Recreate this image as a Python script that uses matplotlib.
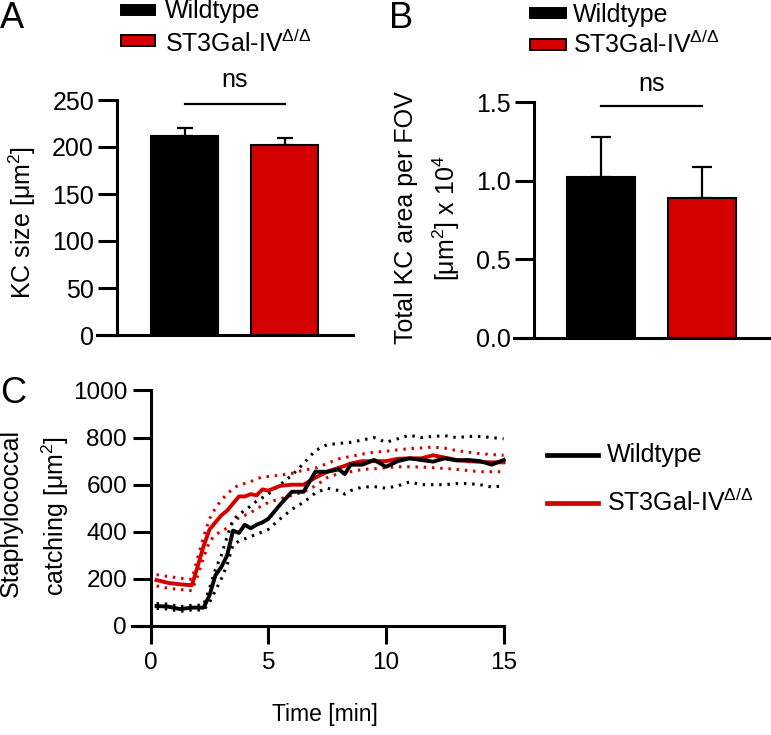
import matplotlib
matplotlib.use("Agg")
import matplotlib.pyplot as plt
from matplotlib.patches import Rectangle
from matplotlib.lines import Line2D

plt.rcParams['font.family'] = ['Liberation Sans', 'DejaVu Sans']
plt.rcParams['mathtext.fontset'] = 'custom'
plt.rcParams['mathtext.rm'] = 'Liberation Sans'
plt.rcParams['mathtext.it'] = 'Liberation Sans:italic'
plt.rcParams['mathtext.bf'] = 'Liberation Sans:bold'

# ---- data ----
groups = ['Wildtype', 'ST3Gal-IV$^{Δ/Δ}$']
colors = ['black', '#d40000']

kc_size = [212, 202.5]
kc_size_err = [8, 7.5]

kc_area = [1.024, 0.89]
kc_area_err = [0.255, 0.195]

time_min = [0.25, 0.75, 1.25, 1.75, 2.0, 2.25, 2.5, 2.75, 3.0, 3.25, 3.5, 3.75,
            4.0, 4.25, 4.5, 4.75, 5.0, 5.5, 6.0, 6.5, 7.0, 7.5, 8.0, 8.25, 8.5,
            9.0, 9.5, 10.0, 10.5, 11.0, 11.5, 12.0, 12.5, 13.0, 13.5, 14.0, 14.5, 15.0]

wt_mean = [85, 82, 72, 78, 78, 78, 130, 215, 250, 300, 405, 395,
           430, 415, 430, 440, 455, 515, 570, 570, 655, 655, 665, 645, 685,
           685, 705, 676, 700, 712, 705, 698, 712, 703, 705, 700, 685, 705]
wt_upper = [95, 93, 82, 88, 88, 90, 160, 240, 300, 380, 450, 475,
            490, 510, 530, 545, 560, 600, 640, 690, 745, 770, 775, 778, 780,
            790, 800, 780, 795, 810, 800, 805, 808, 800, 805, 805, 800, 795]
wt_lower = [75, 72, 62, 68, 68, 68, 100, 150, 200, 260, 345, 360,
            370, 380, 390, 400, 410, 455, 495, 525, 565, 585, 575, 560, 575,
            590, 592, 585, 595, 612, 600, 600, 600, 605, 605, 600, 590, 595]

ko_mean = [195, 183, 177, 173, 254, 340, 410, 440, 470, 490, 520, 550,
           550, 560, 555, 580, 575, 595, 600, 600, 630, 655, 672, 680, 690,
           700, 700, 700, 710, 712, 712, 725, 715, 705, 700, 697, 695, 695]
ko_upper = [218, 210, 203, 198, 290, 380, 455, 500, 535, 560, 585, 598,
            605, 613, 625, 633, 635, 640, 648, 662, 670, 690, 710, 715, 720,
            730, 738, 742, 748, 753, 756, 760, 755, 745, 738, 732, 728, 725]
ko_lower = [170, 160, 155, 150, 215, 290, 360, 385, 405, 415, 440, 460,
            470, 480, 500, 510, 525, 540, 555, 570, 595, 630, 648, 650, 655,
            665, 668, 672, 676, 676, 675, 672, 669, 665, 660, 655, 655, 655]

W, H = 771, 735
FS = 18


def rect(l, t, r, b):
    return [l / W, 1 - b / H, (r - l) / W, (b - t) / H]


def ftext(x, y, s, **kw):
    fig.text(x / W, 1 - y / H, s, **kw)


def prism_axis(ax, spine_x):
    for s in ['top', 'right']:
        ax.spines[s].set_visible(False)
    for s in ['left', 'bottom']:
        ax.spines[s].set_linewidth(2.2)
    ax.spines['left'].set_position(('data', spine_x))
    ax.tick_params(axis='y', length=13.5, width=2.2, labelsize=FS, pad=3)


fig = plt.figure(figsize=(W / 100, H / 100), dpi=100)

# ---- panel A ----
axA = fig.add_axes(rect(97, 100, 353, 335))
axA.bar([0, 1], kc_size, width=0.667, color=colors, edgecolor='black', linewidth=1.5, zorder=3)
axA.errorbar([0, 1], kc_size, yerr=[[0, 0], kc_size_err], fmt='none', ecolor='black',
             elinewidth=1.6, capsize=5.8, capthick=1.6, zorder=2)
axA.set_xlim(-0.871, 1.677)
axA.set_ylim(0, 250)
axA.set_yticks([0, 50, 100, 150, 200, 250])
prism_axis(axA, -0.672)
axA.tick_params(axis='x', length=0, labelbottom=False)
axA.plot([0, 1], [245.7, 245.7], color='black', lw=1.6, clip_on=False)
axA.text(0.5, 263.8, 'ns', ha='center', va='baseline', fontsize=FS)

# ---- panel B ----
axB = fig.add_axes(rect(514, 102.3, 770, 337.7))
axB.bar([0, 1], kc_area, width=0.675, color=colors, edgecolor='black', linewidth=1.5, zorder=3)
axB.errorbar([0, 1], kc_area, yerr=[[0, 0], kc_area_err], fmt='none', ecolor='black',
             elinewidth=1.6, capsize=7.2, capthick=1.6, zorder=2)
axB.set_xlim(-0.862, 1.68)
axB.set_ylim(0, 1.5)
axB.set_yticks([0, 0.5, 1.0, 1.5])
axB.set_yticklabels(['0.0', '0.5', '1.0', '1.5'])
prism_axis(axB, -0.663)
axB.tick_params(axis='x', length=0, labelbottom=False)
axB.plot([0, 1], [1.476, 1.476], color='black', lw=1.6, clip_on=False)
axB.text(0.5, 1.574, 'ns', ha='center', va='baseline', fontsize=FS)

# ---- panel C ----
axC = fig.add_axes(rect(131.7, 390.5, 503.6, 626))
dot = (0, (0.8, 1.9))
axC.plot(time_min, ko_upper, color=colors[1], lw=2.2, ls=dot, clip_on=False)
axC.plot(time_min, ko_lower, color=colors[1], lw=2.2, ls=dot, clip_on=False)
axC.plot(time_min, wt_upper, color=colors[0], lw=2.2, ls=dot, clip_on=False)
axC.plot(time_min, wt_lower, color=colors[0], lw=2.2, ls=dot, clip_on=False)
axC.plot(time_min, ko_mean, color=colors[1], lw=2.8, clip_on=False)
axC.plot(time_min, wt_mean, color=colors[0], lw=2.8, clip_on=False)
axC.set_xlim(-0.807, 15)
axC.set_ylim(0, 1000)
axC.set_xticks([0, 5, 10, 15])
axC.set_yticks([0, 200, 400, 600, 800, 1000])
prism_axis(axC, 0)
axC.tick_params(axis='y', length=13, labelsize=17.5, pad=4)
axC.tick_params(axis='x', length=13, width=2.2, labelsize=17.5, pad=6)
axC.text(7.4, -405, 'Time [min]', ha='center', va='baseline', fontsize=16.5)

# ---- labels ----
ftext(0, 28, 'A', fontsize=26, va='baseline')
ftext(389, 28, 'B', fontsize=26, va='baseline')
ftext(0, 403, 'C', fontsize=26, va='baseline')

ftext(22, 222, 'KC size [μm$^2$]', rotation=90, ha='center', va='center', fontsize=FS)
ftext(406, 218, 'Total KC area per FOV', rotation=90, ha='center', va='center', fontsize=FS)
ftext(446, 218, '[μm$^2$] x 10$^4$', rotation=90, ha='center', va='center', fontsize=FS)
ftext(11, 513, 'Staphylococcal', rotation=90, ha='center', va='center', fontsize=FS)
ftext(55, 516, 'catching [μm$^2$]', rotation=90, ha='center', va='center', fontsize=FS)

# ---- legends ----
legA = [(121, 155, 5, 15, 18.3), (121, 155, 35, 46, 51.7)]
legB = [(530, 566, 8, 18, 21.7), (530, 566, 38.5, 49.5, 52.7)]
for leg, tx in [(legA, 165), (legB, 573)]:
    for (x0, x1, y0, y1, base), c, name in zip(leg, colors, groups):
        fig.add_artist(Rectangle((x0 / W, 1 - y1 / H), (x1 - x0) / W, (y1 - y0) / H,
                                 transform=fig.transFigure, facecolor=c,
                                 edgecolor='black', linewidth=1.4))
        ftext(tx, base, name, fontsize=FS, va='baseline')

for yl, base, c, name in zip([455, 503], [462, 511], colors, groups):
    fig.add_artist(Line2D([547 / W, 598 / W], [1 - yl / H, 1 - yl / H],
                          transform=fig.transFigure, color=c, lw=3.4))
    ftext(607, base, name, fontsize=FS, va='baseline')

fig.savefig('out.png', dpi=100)
